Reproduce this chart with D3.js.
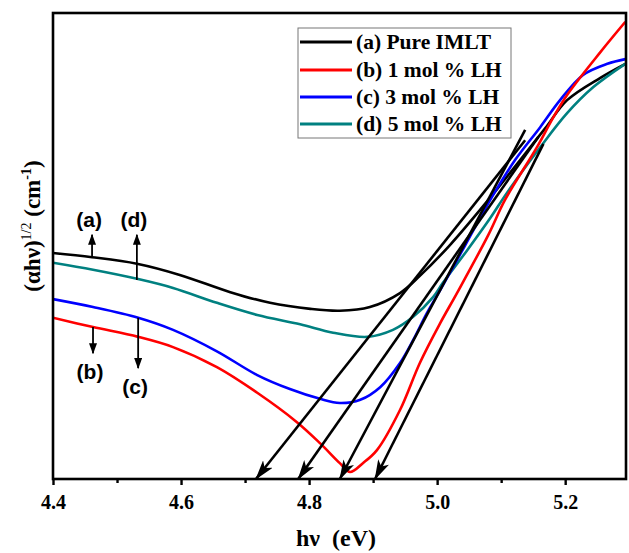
<!DOCTYPE html>
<html>
<head>
<meta charset="utf-8">
<script src="https://cdn.jsdelivr.net/npm/d3@7/dist/d3.min.js"></script>
<style>
  html, body { margin: 0; padding: 0; background: #fff; }
  svg { display: block; }
</style>
</head>
<body>
<svg id="chart" width="629" height="553"></svg>
<script>
// ---- data ----
const seriesNames = ["(a) Pure IMLT", "(b) 1 mol % LH", "(c) 3 mol % LH", "(d) 5 mol % LH"];
const seriesColors = ["#000000", "#ff0000", "#0000ff", "#008080"];

const aX = [4.400, 4.461, 4.531, 4.598, 4.677, 4.739, 4.802, 4.848, 4.895, 4.942, 4.973, 5.020, 5.080, 5.130, 5.169, 5.203, 5.255, 5.294];
const aY = [48.5, 47.6, 46.2, 43.8, 40.1, 37.8, 36.5, 36.1, 36.9, 39.9, 43.6, 50.2, 59.9, 68.5, 75.3, 81.3, 86.1, 89.1];

const bX = [4.400, 4.4625, 4.533, 4.5875, 4.656, 4.719, 4.781, 4.817, 4.848, 4.864, 4.884, 4.906, 4.942, 4.973, 5.005, 5.031, 5.080, 5.106, 5.156, 5.181, 5.203, 5.255, 5.294];
const bY = [34.6, 32.6, 30.5, 28.3, 24.0, 18.5, 12.2, 7.7, 3.4, 1.5, 3.4, 6.2, 14.8, 24.9, 33.5, 39.9, 52.4, 59.9, 71.2, 77.5, 82.4, 91.6, 98.1];

const cX = [4.400, 4.4625, 4.533, 4.5875, 4.656, 4.719, 4.770, 4.817, 4.848, 4.880, 4.911, 4.942, 4.9625, 4.984, 5.005, 5.044, 5.083, 5.122, 5.161, 5.192, 5.228, 5.266, 5.294];
const cY = [38.6, 36.9, 34.6, 32.0, 27.4, 22.3, 19.3, 17.2, 16.3, 17.0, 19.7, 24.9, 29.8, 35.6, 40.6, 50.2, 59.9, 68.5, 75.5, 81.3, 86.7, 89.1, 90.1];

const dX = [4.400, 4.4625, 4.533, 4.5875, 4.656, 4.719, 4.786, 4.8375, 4.891, 4.931, 4.9625, 4.994, 5.009, 5.047, 5.083, 5.109, 5.161, 5.203, 5.244, 5.294];
const dY = [46.4, 44.9, 42.9, 41.0, 37.8, 35.2, 33.2, 31.4, 30.5, 32.0, 34.8, 39.1, 42.1, 49.1, 56.0, 61.4, 71.2, 78.5, 84.1, 89.1];

// tangent (extrapolation) lines: intercept on the energy axis and upper end
const tanTipX = [4.717, 4.783, 4.848, 4.903];
const tanEndX = [5.1375, 5.158, 5.1375, 5.166];
const tanEndY = [72.7, 73.4, 74.9, 71.9];

// annotation arrows (a),(d) point up, (b),(c) point down
const annText = ["(a)", "(d)", "(b)", "(c)"];
const annX = [4.461, 4.531, 4.4625, 4.533];
const annFromY = [47.6, 42.7, 32.6, 34.6];
const annToY = [52.4, 52.4, 27.0, 23.8];

const majorTicks = [4.4, 4.6, 4.8, 5.0, 5.2];
const minorTicks = [4.5, 4.7, 4.9, 5.1];
const xDomain = [4.4, 5.295];
const yDomain = [0, 100];

// ---- drawing ----
const svg = d3.select("#chart");
const L = 53, R = 626, T = 13, B = 479;
const x = d3.scaleLinear().domain(xDomain).range([L, R]);
const y = d3.scaleLinear().domain(yDomain).range([B, T]);

const serif = "'Liberation Serif', 'Times New Roman', serif";
const sans = "'Liberation Sans', Arial, sans-serif";

// defs: arrow markers
const defs = svg.append("defs");
defs.append("marker").attr("id", "bigArrow")
  .attr("viewBox", "0 0 20 12").attr("refX", 19).attr("refY", 6)
  .attr("markerWidth", 20).attr("markerHeight", 12)
  .attr("markerUnits", "userSpaceOnUse").attr("orient", "auto")
  .append("path").attr("d", "M0,0 L20,6 L0,12 L5,6 Z").attr("fill", "#000");
defs.append("marker").attr("id", "smallArrow")
  .attr("viewBox", "0 0 11 8").attr("refX", 10).attr("refY", 4)
  .attr("markerWidth", 11).attr("markerHeight", 8)
  .attr("markerUnits", "userSpaceOnUse").attr("orient", "auto")
  .append("path").attr("d", "M0,0 L11,4 L0,8 Z").attr("fill", "#000");

const clip = defs.append("clipPath").attr("id", "plotClip");
clip.append("rect").attr("x", L).attr("y", T).attr("width", R - L).attr("height", B - T);

// curves
const seriesData = [[aX, aY], [bX, bY], [cX, cY], [dX, dY]];
const line = d3.line().x(d => x(d[0])).y(d => y(d[1])).curve(d3.curveCatmullRom.alpha(0.5));
const curvesG = svg.append("g").attr("clip-path", "url(#plotClip)");
[0, 3, 2, 1].forEach(i => {
  const pts = seriesData[i][0].map((v, k) => [v, seriesData[i][1][k]]);
  curvesG.append("path").datum(pts).attr("d", line)
    .attr("fill", "none").attr("stroke", seriesColors[i]).attr("stroke-width", 2.6)
    .attr("stroke-linejoin", "round");
});

// tangent lines with arrowheads at the axis
const tanG = svg.append("g");
tanTipX.forEach((tx, i) => {
  tanG.append("line")
    .attr("x1", x(tanEndX[i])).attr("y1", y(tanEndY[i]))
    .attr("x2", x(tx)).attr("y2", y(0))
    .attr("stroke", "#000").attr("stroke-width", 2.6)
    .attr("marker-end", "url(#bigArrow)");
});

// annotation arrows and labels
const annG = svg.append("g");
annText.forEach((t, i) => {
  annG.append("line")
    .attr("x1", x(annX[i])).attr("y1", y(annFromY[i]))
    .attr("x2", x(annX[i])).attr("y2", y(annToY[i]))
    .attr("stroke", "#000").attr("stroke-width", 1.8)
    .attr("marker-end", "url(#smallArrow)");
  const up = annToY[i] > annFromY[i];
  annG.append("text")
    .attr("x", x(annX[i]) - 3)
    .attr("y", up ? y(annToY[i]) - 8 : y(annToY[i]) + 26)
    .attr("text-anchor", "middle")
    .attr("font-family", sans).attr("font-weight", "bold").attr("font-size", 21)
    .text(t);
});

// frame
svg.append("rect").attr("x", L).attr("y", T).attr("width", R - L).attr("height", B - T)
  .attr("fill", "none").attr("stroke", "#000").attr("stroke-width", 2.6);

// x axis: major & minor ticks
const axMajor = svg.append("g").attr("transform", `translate(0,${B})`)
  .call(d3.axisBottom(x).tickValues(majorTicks).tickSize(6).tickPadding(10).tickFormat(d3.format(".1f")));
axMajor.select(".domain").remove();
axMajor.selectAll(".tick line").attr("stroke", "#000").attr("stroke-width", 2.4);
axMajor.selectAll(".tick text").attr("font-family", serif).attr("font-weight", "bold")
  .attr("font-size", 20).attr("fill", "#000");

const axMinor = svg.append("g").attr("transform", `translate(0,${B})`)
  .call(d3.axisBottom(x).tickValues(minorTicks).tickSize(4).tickFormat(""));
axMinor.select(".domain").remove();
axMinor.selectAll(".tick line").attr("stroke", "#000").attr("stroke-width", 2.4);

// axis titles
svg.append("text").attr("x", 336).attr("y", 546).attr("text-anchor", "middle")
  .attr("font-family", serif).attr("font-weight", "bold").attr("font-size", 24)
  .attr("xml:space", "preserve")
  .text("h\u03bd  (eV)");

const yt = svg.append("text").attr("transform", "translate(40,226) rotate(-90)")
  .attr("text-anchor", "middle").attr("font-family", serif).attr("font-weight", "bold")
  .attr("font-size", 23);
yt.append("tspan").text("(\u03b1h\u03bd)");
yt.append("tspan").attr("dy", -9).attr("font-size", 14).attr("font-weight", "normal").text("1/2");
yt.append("tspan").attr("dy", 9).text(" (cm");
yt.append("tspan").attr("dy", -9).attr("font-size", 14).text("-1");
yt.append("tspan").attr("dy", 9).text(")");

// legend
const lg = svg.append("g");
lg.append("rect").attr("x", 298).attr("y", 28).attr("width", 213).attr("height", 110)
  .attr("fill", "#fff").attr("stroke", "#777").attr("stroke-width", 1);
const rowY = [42, 70, 97, 124];
seriesNames.forEach((n, i) => {
  lg.append("line").attr("x1", 300).attr("x2", 352).attr("y1", rowY[i]).attr("y2", rowY[i])
    .attr("stroke", seriesColors[i]).attr("stroke-width", 3);
  lg.append("text").attr("x", 356).attr("y", rowY[i] + 7)
    .attr("font-family", serif).attr("font-weight", "bold").attr("font-size", 21.5)
    .text(n);
});
</script>
</body>
</html>
